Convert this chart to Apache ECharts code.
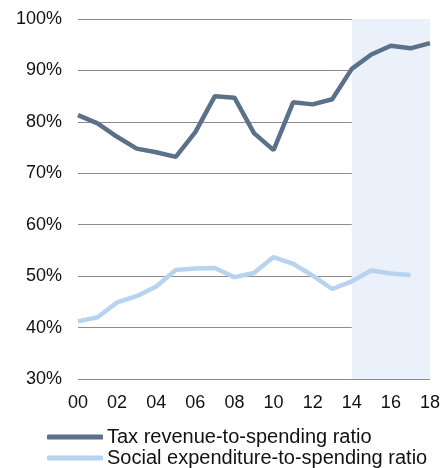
<!DOCTYPE html>
<html><head><meta charset="utf-8">
<script src="https://cdn.jsdelivr.net/npm/echarts@6/dist/echarts.min.js"></script>
<style>html,body{margin:0;padding:0;background:#fff}#c{width:443px;height:468px}</style>
</head><body><div id="c"></div>
<script>
var categories = ['00','01','02','03','04','05','06','07','08','09','10','11','12','13','14','15','16','17','18'];
var taxRatio = [81.3,79.7,77.1,74.8,74.1,73.2,78.0,85.0,84.7,77.8,74.5,83.8,83.4,84.4,90.3,93.1,94.8,94.3,95.3];
var socialRatio = [41.2,42.0,44.9,46.1,48.0,51.2,51.5,51.6,49.8,50.6,53.7,52.4,50.1,47.5,49.0,51.1,50.5,50.2,null];
var seriesNames = ['Tax revenue-to-spending ratio','Social expenditure-to-spending ratio'];
var shadeRange = ['14','18'];

var font = '"Liberation Sans", Arial, sans-serif';
var chart = echarts.init(document.getElementById('c'), null, {renderer:'canvas'});
chart.setOption({
  animation:false,
  grid:{left:78,right:12,top:19,bottom:89},
  xAxis:{
    type:'category', data:categories, boundaryGap:false,
    axisLine:{show:false}, axisTick:{show:false},
    axisLabel:{interval:1, fontSize:18, color:'#111', fontFamily:font, margin:15}
  },
  yAxis:{
    type:'value', min:30, max:100, interval:10,
    axisLine:{show:false}, axisTick:{show:false},
    axisLabel:{formatter:'{value}%', fontSize:18, color:'#111', fontFamily:font, margin:16},
    splitLine:{lineStyle:{color:'#8c8c8c', width:1}}
  },
  legend:{
    orient:'vertical', left:47, top:427, height:80,
    itemWidth:56, itemHeight:5, itemGap:1, padding:0,
    icon:'roundRect',
    textStyle:{fontSize:20, color:'#111', fontFamily:font, padding:[0,0,0,-1]},
    data:seriesNames
  },
  series:[
    {name:seriesNames[0], type:'line', data:taxRatio, symbol:'none',
     lineStyle:{color:'#5a7189', width:4.5}, itemStyle:{color:'#5a7189'}, z:3,
     markArea:{silent:true, itemStyle:{color:'#eaf1fa'},
       data:[[{xAxis:shadeRange[0]},{xAxis:shadeRange[1]}]]}},
    {name:seriesNames[1], type:'line', data:socialRatio, symbol:'none',
     lineStyle:{color:'#b7d3f0', width:4.5}, itemStyle:{color:'#b7d3f0'}, z:3}
  ]
});
</script></body></html>
